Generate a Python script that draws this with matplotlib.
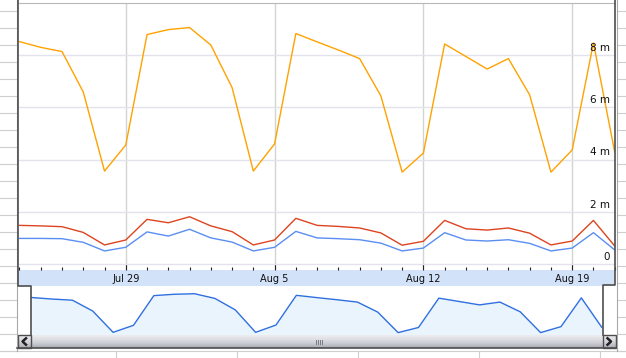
import numpy as np
import pandas as pd
import matplotlib
matplotlib.use("Agg")
import matplotlib.pyplot as plt
import matplotlib.dates as mdates
from matplotlib.patches import Rectangle
from matplotlib.colors import LinearSegmentedColormap

# data (values in "m")
dates = pd.date_range("2010-07-24", "2010-08-21", freq="D")
orange = [8.52, 8.30, 8.14, 6.59, 3.56, 4.56, 8.79, 8.98, 9.06, 8.39, 6.76, 3.56, 4.60, 8.83,
          8.51, 8.20, 7.87, 6.44, 3.52, 4.25, 8.43, 7.95, 7.47, 7.87, 6.48, 3.52, 4.37, 8.47, 4.29]
red = [1.48, 1.46, 1.43, 1.21, 0.73, 0.92, 1.71, 1.58, 1.81, 1.46, 1.24, 0.73, 0.92, 1.75,
       1.48, 1.44, 1.38, 1.19, 0.72, 0.87, 1.67, 1.35, 1.30, 1.38, 1.18, 0.73, 0.88, 1.67, 0.69]
blue = [0.98, 0.98, 0.97, 0.83, 0.50, 0.64, 1.23, 1.07, 1.33, 1.00, 0.84, 0.50, 0.64, 1.25,
        1.00, 0.97, 0.93, 0.80, 0.50, 0.61, 1.20, 0.92, 0.88, 0.93, 0.79, 0.50, 0.61, 1.20, 0.54]
week_ticks = ["2010-07-29", "2010-08-05", "2010-08-12", "2010-08-19"]
week_labels = ["Jul 29", "Aug 5", "Aug 12", "Aug 19"]
y_ticks = [0, 2, 4, 6, 8]
y_labels = ["0", "2 m", "4 m", "6 m", "8 m"]

W, H = 626, 358
fig = plt.figure(figsize=(W / 100, H / 100), dpi=100)


def px_axes(x0, y0, x1, y1, **kw):
    # axes placed by pixel box (top-left origin)
    return fig.add_axes([x0 / W, 1 - y1 / H, (x1 - x0) / W, (y1 - y0) / H], **kw)


x = mdates.date2num(dates)
d0, dn = x[0], x[-1]

# spreadsheet background behind the chart
bg = fig.add_axes([0, 0, 1, 1], zorder=0)
bg.set_xlim(0, W)
bg.set_ylim(H, 0)
bg.axis("off")
sheet = "#cfcfcf"
for y in range(11, 352, 17):
    bg.plot([0, 16.5], [y, y], color=sheet, lw=0.8)
    bg.plot([617, W], [y, y], color=sheet, lw=0.8)
bg.plot([0, W], [351, 351], color=sheet, lw=0.8)
for xc in [116, 237, 358, 479, 600]:
    bg.plot([xc, xc], [351, H], color=sheet, lw=0.8)
bg.add_patch(Rectangle((18, 270), 597, 16, fc="#d2e2f8", ec="none"))

# main chart
ax = px_axes(18.5, 3, 615, 270, zorder=1)
ax.plot(x, orange, color="#ffa200", lw=1.0)
ax.plot(x, red, color="#dd4420", lw=1.0)
ax.plot(x, blue, color="#5a8ef2", lw=1.0)
ax.set_xlim(d0 - 0.047, dn + 0.014)
ax.set_ylim(-0.23, 10.0)

ax.set_yticks(y_ticks)
ax.yaxis.grid(True, color="#e3e3ee", lw=1.0)
ax.set_xticks(mdates.date2num(pd.to_datetime(week_ticks)))
ax.set_xticklabels(week_labels)
ax.set_xticks(x, minor=True)
ax.xaxis.grid(True, which="major", color="#d0d6d0", lw=1.0)
ax.set_axisbelow(True)
ax.tick_params(axis="x", which="major", direction="in", length=4.5, width=0.8,
               color="#222222", pad=2.8, labelsize=7, labelcolor="#111111")
ax.tick_params(axis="x", which="minor", direction="in", length=2.2, width=0.8, color="#222222")
ax.tick_params(axis="y", left=False, labelleft=False)
for s in ["left", "right", "bottom"]:
    ax.spines[s].set_visible(False)
ax.spines["top"].set_color("#b8b8b8")

for v, lbl in zip(y_ticks, y_labels):
    ax.annotate(lbl, xy=(1, v), xycoords=("axes fraction", "data"), xytext=(-3.6, 5.2),
                textcoords="offset points", ha="right", va="center", fontsize=7.5,
                color="#111111", annotation_clip=False)

# range navigator
nav = px_axes(31, 286, 603, 335, zorder=1)
nav.fill_between(x, orange, 0, color="#eaf4fd", lw=0)
nav.plot(x, orange, color="#2f6fe0", lw=1.0)
nav.set_xlim(d0 - 0.034, dn + 0.064)
nav.set_ylim(3.18, 10.16)
nav.axis("off")

# frame, scrollbar and buttons
fg = fig.add_axes([0, 0, 1, 1], zorder=5)
fg.patch.set_alpha(0)
fg.axis("off")
cmap = LinearSegmentedColormap.from_list("bar", ["#ececf0", "#dedee3", "#cacad2", "#a8a8b2"])
fg.imshow(np.linspace(0, 1, 30).reshape(-1, 1), cmap=cmap, aspect="auto",
          extent=(18, 616, 348, 335), interpolation="bilinear")
fg.set_xlim(0, W)
fg.set_ylim(H, 0)

dark = "#4e4e4e"
light = "#a8a8a8"
fg.plot([16.7, 16.7], [0, 351], color=light, lw=0.8)
fg.plot([617, 617], [0, 351], color=light, lw=0.8)
fg.plot([18, 18, 31, 31], [0, 286, 286, 335], color=dark, lw=1.2)
fg.plot([615, 615, 603, 603], [0, 285, 285, 335], color=dark, lw=1.2)
fg.plot([17, 616], [348, 348], color=dark, lw=1.2)
fg.add_patch(Rectangle((17.5, 335), 13.5, 13, fill=False, ec=dark, lw=1.0))
fg.add_patch(Rectangle((603, 335), 13, 13, fill=False, ec=dark, lw=1.0))
fg.plot([26, 22.5, 26], [338.3, 341.5, 344.7], color="#222222", lw=1.8)
fg.plot([607.5, 611, 607.5], [338.3, 341.5, 344.7], color="#222222", lw=1.8)
for gx in [316, 318, 320, 322]:
    fg.plot([gx, gx], [339.5, 344], color="#7a7a82", lw=0.7)

fig.savefig("out.png", dpi=100)
